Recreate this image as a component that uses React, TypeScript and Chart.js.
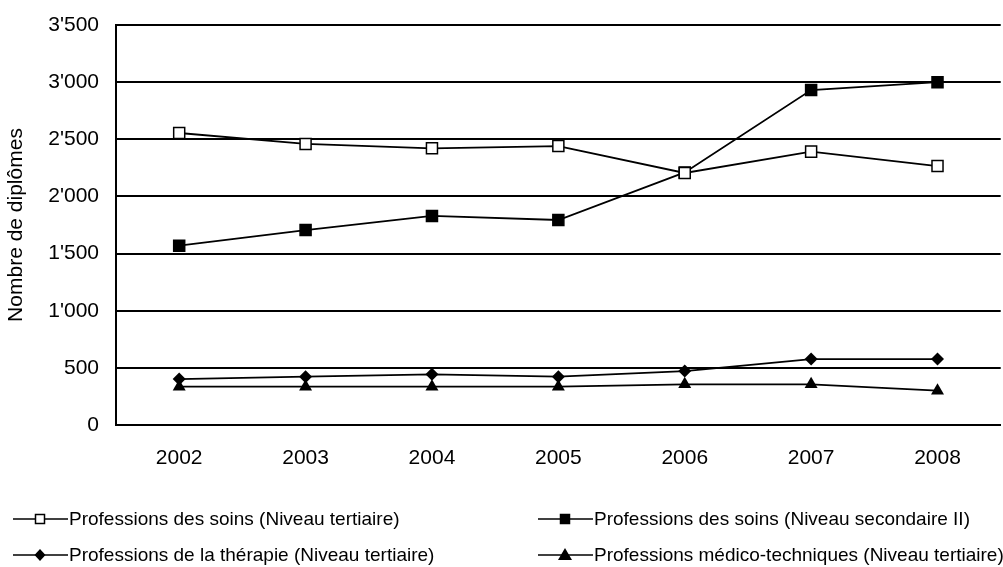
import React, { useEffect, useRef } from "react";
import { Chart, registerables } from "chart.js";

Chart.register(...registerables);

const years = ["2002", "2003", "2004", "2005", "2006", "2007", "2008"];
const soinsTertiaire = [2555, 2459, 2421, 2441, 2205, 2392, 2266];
const soinsSecondaire = [1569, 1706, 1829, 1794, 2210, 2931, 3000];
const therapieTertiaire = [402, 423, 443, 423, 472, 577, 577];
const medicoTertiaire = [335, 335, 335, 335, 356, 356, 300];
const seriesLabels = [
  "Professions des soins (Niveau tertiaire)",
  "Professions des soins (Niveau secondaire II)",
  "Professions de la thérapie (Niveau tertiaire)",
  "Professions médico-techniques (Niveau tertiaire)",
];
const yTicks = [0, 500, 1000, 1500, 2000, 2500, 3000, 3500];

const FONT = "'Liberation Sans', Arial, sans-serif";

const formatThousands = (v: number) => {
  const s = String(Math.round(v));
  return s.length > 3 ? s.slice(0, s.length - 3) + "'" + s.slice(-3) : s;
};

// Two-column legend drawn under the axis labels
const legendPlugin = {
  id: "twoColumnLegend",
  afterDraw(chart: any) {
    const ctx = chart.ctx as CanvasRenderingContext2D;
    const slots = [
      { x: 13, y: 519 },
      { x: 538, y: 519 },
      { x: 13, y: 555 },
      { x: 538, y: 555 },
    ];
    chart.data.datasets.forEach((ds: any, i: number) => {
      const s = slots[i];
      ctx.save();
      ctx.strokeStyle = "#000";
      ctx.lineWidth = 1.5;
      ctx.beginPath();
      ctx.moveTo(s.x, s.y);
      ctx.lineTo(s.x + 55, s.y);
      ctx.stroke();
      const cx = s.x + 27;
      ctx.fillStyle = ds.pointBackgroundColor;
      ctx.beginPath();
      if (ds.pointStyle === "rect") {
        ctx.rect(cx - 4.5, s.y - 4.5, 9, 9);
        ctx.fill();
        ctx.stroke();
      } else if (ds.pointStyle === "rectRot") {
        ctx.moveTo(cx, s.y - 6);
        ctx.lineTo(cx + 5.5, s.y);
        ctx.lineTo(cx, s.y + 6);
        ctx.lineTo(cx - 5.5, s.y);
        ctx.closePath();
        ctx.fill();
      } else {
        ctx.moveTo(cx, s.y - 7);
        ctx.lineTo(cx + 7, s.y + 5);
        ctx.lineTo(cx - 7, s.y + 5);
        ctx.closePath();
        ctx.fill();
      }
      ctx.fillStyle = "#000";
      ctx.font = `19px ${FONT}`;
      ctx.textBaseline = "middle";
      ctx.textAlign = "left";
      ctx.fillText(ds.label, s.x + 56, s.y + 1);
      ctx.restore();
    });
  },
};

export default function App() {
  const canvasRef = useRef<HTMLCanvasElement | null>(null);

  useEffect(() => {
    const canvas = canvasRef.current;
    if (!canvas) return;
    const base = {
      borderColor: "#000",
      borderWidth: 1.8,
      pointBorderColor: "#000",
      pointBorderWidth: 1.5,
      tension: 0,
    };
    const chart = new Chart(canvas, {
      type: "line",
      data: {
        labels: years,
        datasets: [
          {
            ...base,
            label: seriesLabels[0],
            data: soinsTertiaire,
            pointStyle: "rect",
            pointRadius: 7.8,
            pointBackgroundColor: "#fff",
          },
          {
            ...base,
            label: seriesLabels[1],
            data: soinsSecondaire,
            pointStyle: "rect",
            pointRadius: 7.8,
            pointBackgroundColor: "#000",
          },
          {
            ...base,
            label: seriesLabels[2],
            data: therapieTertiaire,
            pointStyle: "rectRot",
            pointRadius: 6.5,
            pointBackgroundColor: "#000",
            pointBorderWidth: 0,
          },
          {
            ...base,
            label: seriesLabels[3],
            data: medicoTertiaire,
            pointStyle: "triangle",
            pointRadius: 7.5,
            pointBackgroundColor: "#000",
            pointBorderWidth: 0,
          },
        ],
      },
      options: {
        animation: false,
        responsive: false,
        maintainAspectRatio: false,
        layout: { padding: { left: 0, top: 25, right: 2, bottom: 0 } },
        plugins: {
          legend: { display: false },
          tooltip: { enabled: false },
        },
        scales: {
          x: {
            offset: true,
            grid: { display: false, drawTicks: false },
            border: { display: true, color: "#000", width: 2 },
            ticks: {
              color: "#000",
              font: { family: FONT, size: 21 },
              padding: 21,
            },
            afterFit(scale: any) {
              scale.height = 142;
              scale.paddingLeft = 0;
              scale.paddingRight = 0;
            },
          },
          y: {
            min: 0,
            max: 3500,
            afterBuildTicks(scale: any) {
              scale.ticks = yTicks.map((v) => ({ value: v }));
            },
            grid: { color: "#000", lineWidth: 2, drawTicks: false },
            border: { display: true, color: "#000", width: 2 },
            ticks: {
              color: "#000",
              font: { family: FONT, size: 21 },
              padding: 17,
              callback: (v: any) => formatThousands(Number(v)),
            },
            title: {
              display: true,
              text: "Nombre de diplômes",
              color: "#000",
              font: { family: FONT, size: 21 },
              padding: { top: 4, bottom: 0 },
            },
            afterFit(scale: any) {
              scale.width = 116;
              scale.paddingTop = 0;
              scale.paddingBottom = 0;
            },
          },
        },
      },
      plugins: [legendPlugin],
    });
    return () => chart.destroy();
  }, []);

  return (
    <div
      style={{
        position: "fixed",
        left: 0,
        top: 0,
        width: 1010,
        height: 567,
        background: "#fff",
      }}
    >
      <canvas ref={canvasRef} width={1010} height={567} style={{ width: 1010, height: 567 }} />
    </div>
  );
}
